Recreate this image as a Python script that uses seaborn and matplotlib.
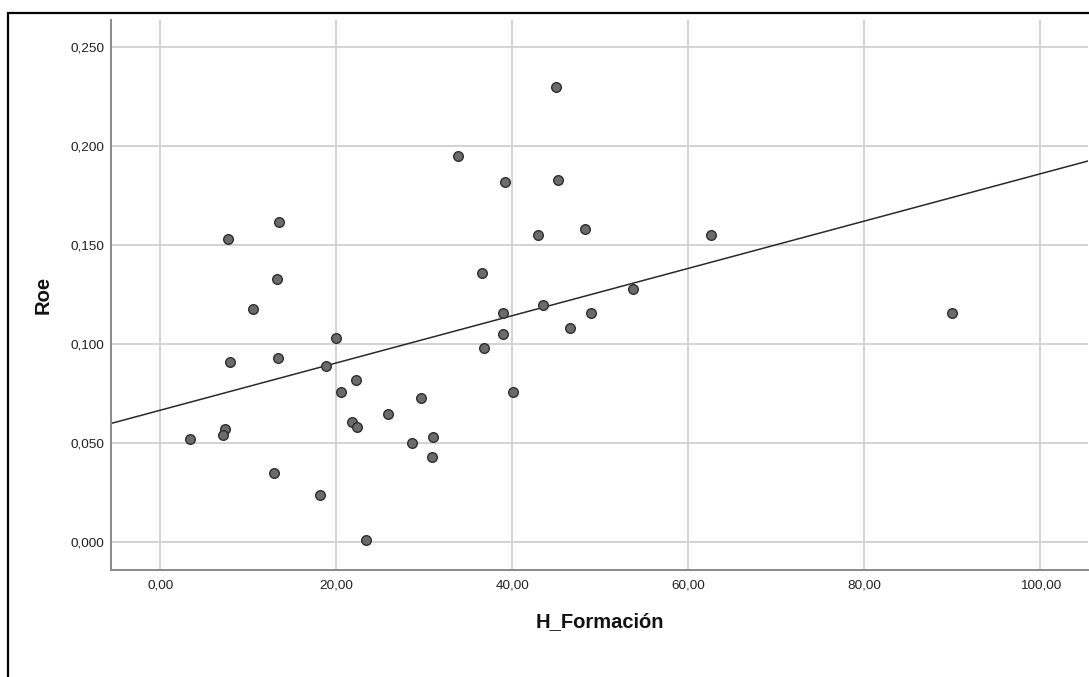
import matplotlib
matplotlib.use("Agg")
import matplotlib.pyplot as plt
import seaborn as sns
import pandas as pd
from matplotlib.ticker import FuncFormatter
from matplotlib.patches import Rectangle

h_formacion = [13.45, 7.69, 13.3, 10.57, 20.0, 7.95, 13.4, 18.8,
               22.24, 20.53, 29.6, 25.9, 21.75, 22.4, 3.38, 7.3, 7.16,
               28.6, 30.99, 30.9, 12.96, 18.1, 23.4,
               45.0, 33.8, 39.2, 45.16, 42.95, 48.2, 62.6, 36.56, 53.75,
               43.5, 38.98, 48.9, 46.5, 38.98, 36.8, 40.1, 90.0]
roe = [0.162, 0.153, 0.133, 0.118, 0.103, 0.091, 0.093, 0.089,
       0.082, 0.076, 0.073, 0.065, 0.061, 0.058, 0.052, 0.057, 0.054,
       0.050, 0.053, 0.043, 0.035, 0.024, 0.001,
       0.230, 0.195, 0.182, 0.183, 0.155, 0.158, 0.155, 0.136, 0.128,
       0.120, 0.116, 0.116, 0.108, 0.105, 0.098, 0.076, 0.116]

x_ticks = [0, 20, 40, 60, 80, 100]
y_ticks = [0.0, 0.05, 0.10, 0.15, 0.20, 0.25]

df = pd.DataFrame({"H_Formación": h_formacion, "Roe": roe})

sns.set_theme(style="white")
plt.rcParams["font.family"] = ["Liberation Sans", "DejaVu Sans"]

fig = plt.figure(figsize=(10.89, 6.77), dpi=100)
ax = fig.add_axes([111/1089, (677-570)/677, 977/1089, 550/677])

ax.set_xlim(-5.6, 105.4)
ax.set_ylim(-0.014, 0.2638)

sns.regplot(data=df, x="H_Formación", y="Roe", ax=ax, ci=None, truncate=False,
            scatter_kws=dict(s=48, color="#6b6b6b", edgecolors="#2e2e2e",
                             linewidths=1.0, alpha=1, zorder=3),
            line_kws=dict(color="#2a2a2a", linewidth=1.1, zorder=2))

ax.set_xlim(-5.6, 105.4)
ax.set_ylim(-0.014, 0.2638)
ax.set_xticks(x_ticks)
ax.set_yticks(y_ticks)
ax.xaxis.set_major_formatter(FuncFormatter(lambda v, p: f"{v:.2f}".replace(".", ",")))
ax.yaxis.set_major_formatter(FuncFormatter(lambda v, p: f"{v:.3f}".replace(".", ",")))
ax.grid(True, color="#d2d2d2", linewidth=1.4)
ax.set_axisbelow(True)

for s in ["top", "right"]:
    ax.spines[s].set_visible(False)
for s in ["left", "bottom"]:
    ax.spines[s].set_color("#8a8a8a")
    ax.spines[s].set_linewidth(1.4)

ax.tick_params(axis="both", length=0, labelsize=9.7, colors="#222222")
ax.tick_params(axis="y", pad=5)
ax.tick_params(axis="x", pad=7)

ax.set_xlabel("H_Formación", fontsize=14.5, fontweight="bold", color="#111111")
ax.set_ylabel("Roe", fontsize=14.5, fontweight="bold", color="#111111")
ax.xaxis.set_label_coords(0.5, (570-612)/550)
ax.yaxis.set_label_coords((53-111)/977, 0.5)

frame = Rectangle((8/1089, -0.1), 1.2, (677-13)/677 + 0.1, transform=fig.transFigure,
                  fill=False, edgecolor="black", linewidth=1.6, clip_on=False)
fig.patches.append(frame)

fig.savefig("out.png", dpi=100)
